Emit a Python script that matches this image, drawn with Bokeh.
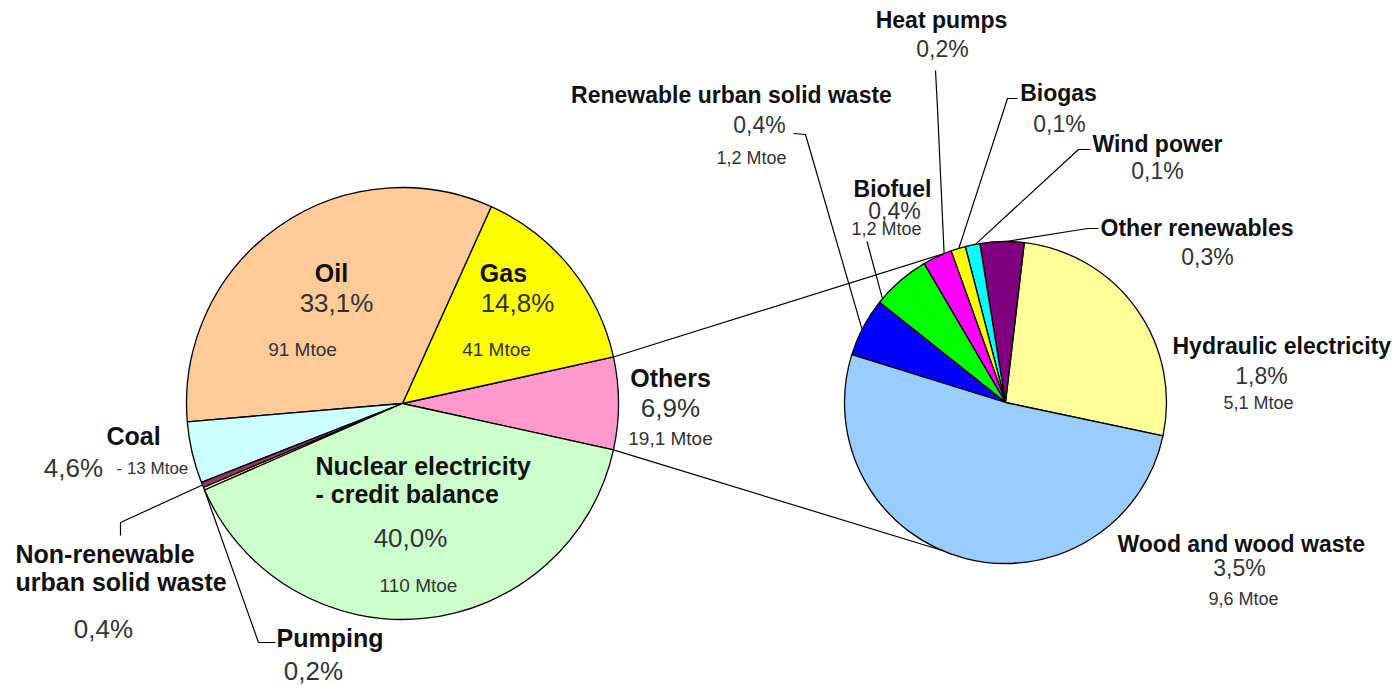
import math
from bokeh.plotting import figure
from bokeh.models import Range1d
from bokeh.core.properties import value
from bokeh.embed import file_html
from bokeh.resources import INLINE

# ---------------- data ----------------
main_names = ["Others", "Gas", "Oil", "Coal", "Non-renewable\nurban solid waste",
              "Pumping", "Nuclear electricity\n- credit balance"]
main_pct = [6.9, 14.8, 33.1, 4.6, 0.4, 0.2, 40.0]
main_mtoe = ["19,1 Mtoe", "41 Mtoe", "91 Mtoe", "- 13 Mtoe", "", "", "110 Mtoe"]

ren_names = ["Hydraulic electricity", "Other renewables", "Wind power", "Biogas",
             "Heat pumps", "Biofuel", "Renewable urban solid waste", "Wood and wood waste"]
ren_pct = [1.8, 0.3, 0.1, 0.1, 0.2, 0.4, 0.4, 3.5]
ren_mtoe = ["5,1 Mtoe", "", "", "", "", "1,2 Mtoe", "1,2 Mtoe", "9,6 Mtoe"]

# ---------------- styles ----------------
main_colors = ["#FF99CC", "#FFFF00", "#FFCC99", "#CCFFFF", "#993366", "#FFFF99", "#CCFFCC"]
ren_colors = ["#FFFF99", "#800080", "#00FFFF", "#FFFF00", "#FF00FF", "#00FF00", "#0000FF", "#99CCFF"]
FONT = value("Liberation Sans")

# ---------------- layout (page pixel coords, y down) ----------------
PAGE_H = 685
W, H = 1397, 685
MAIN_C, MAIN_R, MAIN_START = (402, 403), 216, -12.4
REN_C, REN_R, REN_START = (1005, 402), 161, -12.0
CONN_ANGLES = (112.0, 246.6)  # where connectors meet the secondary pie

main_layout = [
    dict(name=(670, 377, "center"), pct=(670, 407, "center"), mtoe=(670, 438, "center", 19)),
    dict(name=(503, 272, "center"), pct=(517, 302, "center"), mtoe=(496, 349, "center", 19)),
    dict(name=(331, 272, "center"), pct=(336, 302, "center"), mtoe=(302, 349, "center", 19)),
    dict(name=(133, 435, "center"), pct=(73, 467, "center"), mtoe=(116, 468, "left", 17)),
    dict(name=(15, 553, "left"), pct=(103, 628, "center"), leader=[(120, 535), (120, 522)], frac=0.5),
    dict(name=(276, 637, "left"), pct=(313, 670, "center"), leader=[(275, 642), (258, 642)], frac=0.5),
    dict(name=(315, 465, "left"), pct=(410, 537, "center"), mtoe=(418, 585, "center", 19)),
]
ren_layout = [
    dict(name=(1172, 345, "left"), pct=(1261, 375, "center"), mtoe=(1258, 402, "center", 18)),
    dict(name=(1100, 227, "left"), pct=(1207, 256, "center"), leader=[(1098, 228), (1087, 228)], frac=0.42),
    dict(name=(1157, 143, "center"), pct=(1157, 170, "center"), leader=[(1090, 149), (1078, 149)], frac=0.3),
    dict(name=(1058, 92, "center"), pct=(1059, 123, "center"), leader=[(1017, 98), (1007, 98)], frac=0.45),
    dict(name=(941, 19, "center"), pct=(942, 48, "center"), leader=[(935, 70), (937, 108)], frac=0.25),
    dict(name=(892, 188, "center"), pct=(894, 210, "center"), mtoe=(886, 228, "center", 18),
         leader=[(866.5, 241)], frac=0.92),
    dict(name=(731, 94, "center"), pct=(759, 124, "center"), mtoe=(751, 157, "center", 18),
         leader=[(793, 133), (805, 134)], frac=0.54),
    dict(name=(1117, 543, "left"), pct=(1239, 567, "center"), mtoe=(1243, 598, "center", 18)),
]


def Y(sy):
    return PAGE_H - sy


def fmt_pct(v):
    return f"{v:.1f}%".replace(".", ",")


def angles(pcts, start):
    tot = sum(pcts)
    out, a = [], start
    for v in pcts:
        b = a + v / tot * 360.0
        out.append((a, b))
        a = b
    return out


def edge_point(center, r, deg):
    cx, cy = center[0], Y(center[1])
    t = math.radians(deg)
    return cx + r * math.cos(t), cy + r * math.sin(t)


p = figure(width=W, height=H, output_backend="svg", toolbar_location=None,
           x_range=Range1d(0, W), y_range=Range1d(PAGE_H - H, PAGE_H),
           min_border=0)
p.axis.visible = False
p.grid.visible = False
p.outline_line_color = None
p.background_fill_color = "white"
p.border_fill_color = "white"

main_ang = angles(main_pct, MAIN_START)
ren_ang = angles(ren_pct, REN_START)

# connector lines between the pies (from the "Others" slice edges)
oth_a, oth_b = main_ang[0]
for a_main, a_ren in ((oth_b, CONN_ANGLES[0]), (oth_a, CONN_ANGLES[1])):
    x0, y0 = edge_point(MAIN_C, MAIN_R, a_main)
    x1, y1 = edge_point(REN_C, REN_R, a_ren)
    p.line([x0, x1], [y0, y1], line_color="black", line_width=1.2)

# pies
for center, r, angs, cols in ((MAIN_C, MAIN_R, main_ang, main_colors),
                              (REN_C, REN_R, ren_ang, ren_colors)):
    p.wedge(x=[center[0]] * len(angs), y=[Y(center[1])] * len(angs), radius=r,
            start_angle=[math.radians(a) for a, b in angs],
            end_angle=[math.radians(b) for a, b in angs],
            fill_color=cols, line_color="black", line_width=1.3)


def add_text(x, y, txt, size, bold=False, align="center", color="#222222"):
    p.text(x=[x], y=[Y(y)], text=[txt], text_font=FONT, text_font_size=f"{size}px",
           text_font_style="bold" if bold else "normal", text_align=align,
           text_baseline="middle", text_color=color)


def draw_labels(names, pcts, mtoes, layout, angs, center, r, name_size, pct_size, line_gap):
    for name, v, mt, lay, (a, b) in zip(names, pcts, mtoes, layout, angs):
        nx, ny, nal = lay["name"]
        for i, line in enumerate(name.split("\n")):
            add_text(nx, ny + i * line_gap, line, name_size, bold=True, align=nal, color="#111111")
        px, py, pal = lay["pct"]
        add_text(px, py, fmt_pct(v), pct_size, align=pal, color="#333333")
        if mt and "mtoe" in lay:
            mx, my, mal, ms = lay["mtoe"]
            add_text(mx, my, mt, ms, align=mal, color="#333333")
        if "leader" in lay:
            ex, ey = edge_point(center, r, a + lay["frac"] * (b - a))
            xs = [q[0] for q in lay["leader"]] + [ex]
            ys = [Y(q[1]) for q in lay["leader"]] + [ey]
            p.line(xs, ys, line_color="black", line_width=1.2)


draw_labels(main_names, main_pct, main_mtoe, main_layout, main_ang, MAIN_C, MAIN_R, 25, 26, 28.5)
draw_labels(ren_names, ren_pct, ren_mtoe, ren_layout, ren_ang, REN_C, REN_R, 23, 23, 28)

open("out.html", "w").write(file_html(p, INLINE))
